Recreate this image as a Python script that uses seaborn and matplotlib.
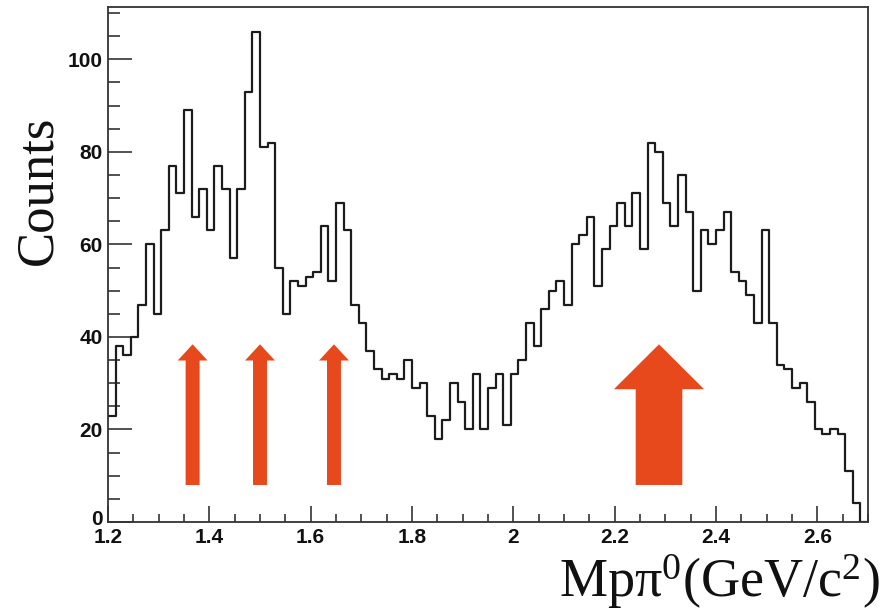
import numpy as np
import pandas as pd
import matplotlib
matplotlib.use("Agg")
import matplotlib.pyplot as plt
from matplotlib.patches import FancyArrow
from matplotlib.ticker import MultipleLocator, FixedLocator, FuncFormatter
from matplotlib.transforms import ScaledTranslation
import seaborn as sns

# Binning of the p-pi0 invariant mass spectrum (GeV/c^2)
mass_min, mass_max, n_bins = 1.2, 2.7, 100

# Counts per bin, low mass to high mass
counts = [
    23, 38, 36, 40, 47, 60, 45, 63, 77, 71,
    89, 66, 72, 63, 77, 72, 57, 72, 93, 106,
    81, 82, 55, 45, 52, 51, 53, 54, 64, 52,
    69, 63, 47, 43, 37, 33, 31, 32, 31, 35,
    29, 30, 23, 18, 22, 30, 26, 20, 32, 20,
    29, 32, 21, 32, 35, 43, 38, 46, 50, 52,
    47, 60, 62, 66, 51, 59, 64, 69, 64, 71,
    59, 82, 80, 69, 64, 75, 67, 50, 63, 60,
    63, 67, 54, 52, 49, 43, 63, 43, 34, 33,
    29, 30, 26, 20, 19, 20, 19, 11, 4, 0,
]

x_major_ticks = [1.2, 1.4, 1.6, 1.8, 2.0, 2.2, 2.4, 2.6]
y_major_ticks = [0, 20, 40, 60, 80, 100]
y_top = 111.3

# Resonance markers: narrow arrows for the N* states, a wide one for the broad bump
narrow_arrow_mass = [1.367, 1.500, 1.646]
wide_arrow_mass = [2.2875]
arrow_bottom, arrow_top = 8.0, 38.4

edges = np.linspace(mass_min, mass_max, n_bins + 1)
centers = 0.5 * (edges[:-1] + edges[1:])
df = pd.DataFrame({"mass": centers, "counts": counts})

sns.set_theme(style="ticks")
plt.rcParams["font.family"] = ["Liberation Sans", "DejaVu Sans"]
plt.rcParams["mathtext.fontset"] = "custom"
plt.rcParams["mathtext.rm"] = "Liberation Serif"
plt.rcParams["mathtext.it"] = "Liberation Serif:italic"

fig = plt.figure(figsize=(8.89, 6.14), dpi=100)
ax = fig.add_axes([108 / 889, 1 - 522 / 614, 760 / 889, 515 / 614])

sns.histplot(data=df, x="mass", weights="counts", bins=n_bins,
             binrange=(mass_min, mass_max),
             element="step", fill=False, color="#1c1c1c", linewidth=1.6, ax=ax)

arrow_color = "#E8491C"
for m in narrow_arrow_mass:
    ax.add_patch(FancyArrow(m, arrow_bottom, 0, arrow_top - arrow_bottom,
                            width=0.0276, head_width=0.059, head_length=3.5,
                            length_includes_head=True, color=arrow_color, lw=0))
for m in wide_arrow_mass:
    ax.add_patch(FancyArrow(m, arrow_bottom, 0, arrow_top - arrow_bottom,
                            width=0.092, head_width=0.178, head_length=9.7,
                            length_includes_head=True, color=arrow_color, lw=0))

ax.set_xlim(mass_min, mass_max)
ax.set_ylim(0, y_top)
ax.xaxis.set_major_locator(FixedLocator(x_major_ticks))
ax.xaxis.set_minor_locator(MultipleLocator(0.05))
ax.yaxis.set_major_locator(FixedLocator(y_major_ticks))
ax.yaxis.set_minor_locator(MultipleLocator(5))
ax.xaxis.set_major_formatter(FuncFormatter(lambda v, p: f"{v:g}"))
ax.set_xlabel("")
ax.set_ylabel("")

ax.tick_params(axis="x", which="major", direction="in", length=11.5, width=1.1,
               color="#222222", labelsize=15, labelcolor="#111111", pad=4)
ax.tick_params(axis="x", which="minor", direction="in", length=5.8, width=1.1,
               color="#222222")
ax.tick_params(axis="y", which="major", direction="in", length=17, width=1.1,
               color="#222222", labelsize=15, labelcolor="#111111", pad=4)
ax.tick_params(axis="y", which="minor", direction="in", length=8.6, width=1.1,
               color="#222222")
for lbl in ax.get_xticklabels() + ax.get_yticklabels():
    lbl.set_fontweight("bold")

# lift the corner "0" slightly so it clears the first x label
zero_label = ax.yaxis.get_major_ticks()[0].label1
zero_label.set_transform(zero_label.get_transform()
                         + ScaledTranslation(0, 3 / 72, fig.dpi_scale_trans))

for side in ["left", "right", "top", "bottom"]:
    ax.spines[side].set_visible(True)
    ax.spines[side].set_color("#333333")
    ax.spines[side].set_linewidth(1.3)

fig.text(38 / 889, 1 - 190 / 614, "Counts", rotation=90, ha="center", va="center",
         family=["Liberation Serif", "DejaVu Serif"], fontsize=38, color="#111111")
fig.text(880 / 889, 1 - 597 / 614, r"Mpπ$^{0}$(GeV/c$^{2}$)", ha="right", va="baseline",
         family=["Liberation Serif", "DejaVu Serif"], fontsize=39, color="#111111")

fig.savefig("out.png", dpi=100, facecolor="white")
